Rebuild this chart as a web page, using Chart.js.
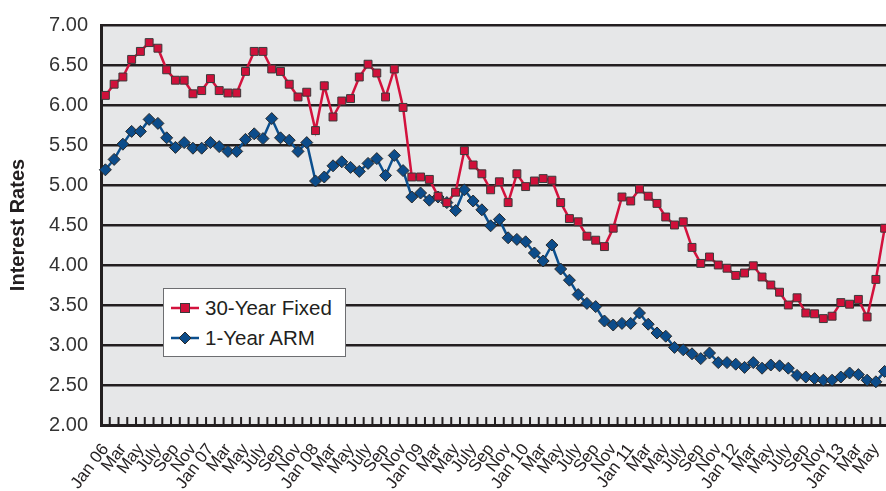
<!DOCTYPE html>
<html>
<head>
<meta charset="utf-8">
<script src="https://cdn.jsdelivr.net/npm/chart.js@4.4.0/dist/chart.umd.min.js"></script>
<style>
  html, body { margin: 0; padding: 0; background: #fff; overflow: hidden; }
  #wrap { position: relative; width: 886px; height: 491px; overflow: hidden; }
  #chart { position: absolute; left: 0; top: 0; }
  #legend {
    position: absolute; left: 163px; top: 288px; width: 181px; height: 67px;
    background: #fff; border: 1px solid #6d6e71;
    font: 20.5px 'Liberation Sans', Arial, sans-serif; color: #231f20;
  }
  #legend .row { position: absolute; left: 7px; height: 24px; display: flex; align-items: center; }
  #legend svg { margin-right: 6px; }
</style>
</head>
<body>
<div id="wrap">
  <canvas id="chart" width="919" height="491"></canvas>
  <div id="legend">
    <div class="row" style="top:7px">
      <svg width="28" height="14"><line x1="0" y1="7" x2="28" y2="7" stroke="#d3123d" stroke-width="2.5"/><rect x="9.5" y="2.5" width="9" height="9" fill="#d0103a" stroke="#3a3a3a" stroke-width="1"/></svg>
      <span>30-Year Fixed</span>
    </div>
    <div class="row" style="top:37px">
      <svg width="28" height="14"><line x1="0" y1="7" x2="28" y2="7" stroke="#0b4f8e" stroke-width="2.5"/><polygon points="14,1 20,7 14,13 8,7" fill="#0c4c8a" stroke="#2a2a2a" stroke-width="1"/></svg>
      <span>1-Year ARM</span>
    </div>
  </div>
</div>
<script>
'use strict';

// Monthly rates, Jan 2006 - June 2013
const categories = [
  'Jan 06','Feb','Mar','Apr','May','June','July','Aug','Sep','Oct','Nov','Dec',
  'Jan 07','Feb','Mar','Apr','May','June','July','Aug','Sep','Oct','Nov','Dec',
  'Jan 08','Feb','Mar','Apr','May','June','July','Aug','Sep','Oct','Nov','Dec',
  'Jan 09','Feb','Mar','Apr','May','June','July','Aug','Sep','Oct','Nov','Dec',
  'Jan 10','Feb','Mar','Apr','May','June','July','Aug','Sep','Oct','Nov','Dec',
  'Jan 11','Feb','Mar','Apr','May','June','July','Aug','Sep','Oct','Nov','Dec',
  'Jan 12','Feb','Mar','Apr','May','June','July','Aug','Sep','Oct','Nov','Dec',
  'Jan 13','Feb','Mar','Apr','May','June'
];

const fixed30 = [
  6.12, 6.26, 6.35, 6.57, 6.67, 6.78, 6.71, 6.44, 6.31, 6.31, 6.14, 6.18,
  6.33, 6.18, 6.15, 6.15, 6.42, 6.67, 6.67, 6.45, 6.42, 6.26, 6.10, 6.16,
  5.68, 6.24, 5.85, 6.05, 6.08, 6.35, 6.51, 6.40, 6.10, 6.45, 5.97, 5.10,
  5.10, 5.07, 4.86, 4.78, 4.91, 5.43, 5.25, 5.14, 4.94, 5.04, 4.78, 5.14,
  4.98, 5.05, 5.08, 5.06, 4.78, 4.58, 4.54, 4.36, 4.31, 4.23, 4.46, 4.85,
  4.80, 4.95, 4.86, 4.77, 4.60, 4.50, 4.54, 4.22, 4.02, 4.10, 4.00, 3.96,
  3.87, 3.90, 3.99, 3.85, 3.75, 3.66, 3.50, 3.59, 3.40, 3.39, 3.33, 3.36,
  3.53, 3.51, 3.57, 3.35, 3.82, 4.46
];

const arm1 = [
  5.19, 5.32, 5.51, 5.67, 5.67, 5.82, 5.77, 5.59, 5.47, 5.53, 5.46, 5.46,
  5.53, 5.48, 5.42, 5.42, 5.57, 5.64, 5.58, 5.83, 5.59, 5.56, 5.42, 5.53,
  5.05, 5.10, 5.24, 5.29, 5.22, 5.17, 5.27, 5.33, 5.12, 5.37, 5.18, 4.85,
  4.90, 4.81, 4.85, 4.78, 4.68, 4.94, 4.80, 4.69, 4.49, 4.57, 4.34, 4.32,
  4.29, 4.15, 4.05, 4.25, 3.95, 3.81, 3.63, 3.52, 3.48, 3.30, 3.25, 3.27,
  3.27, 3.40, 3.26, 3.15, 3.11, 2.97, 2.94, 2.89, 2.83, 2.90, 2.78, 2.78,
  2.76, 2.72, 2.78, 2.71, 2.75, 2.74, 2.71, 2.62, 2.60, 2.58, 2.56, 2.56,
  2.60, 2.65, 2.63, 2.56, 2.54, 2.67
];

const yMin = 2, yMax = 7, yStep = 0.5;

const ink = '#231f20';
const font = "'Liberation Sans', Arial, sans-serif";

// gray plot background
const plotBg = {
  id: 'plotBg',
  beforeDraw(chart) {
    const { ctx, chartArea: a } = chart;
    ctx.save();
    ctx.fillStyle = '#e6e7e8';
    ctx.fillRect(a.left, a.top, a.right - a.left, a.bottom - a.top);
    ctx.restore();
  }
};

// small month tick marks standing up from the x axis
const monthTicks = {
  id: 'monthTicks',
  beforeDatasetsDraw(chart) {
    const x = chart.scales.x, y = chart.scales.y, ctx = chart.ctx;
    const step = x.getPixelForValue(1) - x.getPixelForValue(0);
    ctx.save();
    ctx.strokeStyle = ink;
    ctx.lineWidth = 2;
    ctx.beginPath();
    for (let i = 0; i <= categories.length; i++) {
      const px = x.getPixelForValue(0) + (i - 0.5) * step;
      ctx.moveTo(px, y.bottom);
      ctx.lineTo(px, y.bottom - 8);
    }
    ctx.stroke();
    ctx.restore();
  }
};

new Chart(document.getElementById('chart'), {
  type: 'line',
  data: {
    labels: categories,
    datasets: [
      {
        label: '30-Year Fixed', data: fixed30,
        borderColor: '#d3123d', borderWidth: 2.5, tension: 0,
        pointStyle: 'rect', pointRadius: 5.6,
        pointBackgroundColor: '#d0103a', pointBorderColor: '#3a3a3a', pointBorderWidth: 1,
      },
      {
        label: '1-Year ARM', data: arm1,
        borderColor: '#0b4f8e', borderWidth: 2.5, tension: 0,
        pointStyle: 'rectRot', pointRadius: 6,
        pointBackgroundColor: '#0c4c8a', pointBorderColor: '#2a2a2a', pointBorderWidth: 1,
      },
    ],
  },
  options: {
    responsive: false,
    animation: false,
    layout: { padding: { top: 17, right: 30, bottom: 0, left: 0 } },
    plugins: { legend: { display: false }, tooltip: { enabled: false } },
    scales: {
      x: {
        offset: true,
        grid: { display: false },
        border: { display: true, color: ink, width: 3 },
        ticks: {
          autoSkip: false, minRotation: 53, maxRotation: 53, padding: 7,
          color: ink, font: { family: font, size: 17 },
          callback: (v, i) => (i % 2 === 0 ? categories[i] : ''),
        },
        afterFit: (s) => { s.height = 66; },
      },
      y: {
        min: yMin, max: yMax,
        grid: { color: ink, lineWidth: 2.5, drawTicks: false },
        border: { display: true, color: ink, width: 3 },
        ticks: {
          stepSize: yStep, padding: 13, color: '#333',
          font: { family: font, size: 20 },
          callback: (v) => v.toFixed(2),
        },
        title: {
          display: true, text: 'Interest Rates', color: ink,
          font: { family: font, size: 20, weight: 'bold' },
          padding: { top: 6, bottom: 0 },
        },
        afterFit: (s) => { s.width = 101; },
      },
    },
  },
  plugins: [plotBg, monthTicks],
});
</script>
</body>
</html>
